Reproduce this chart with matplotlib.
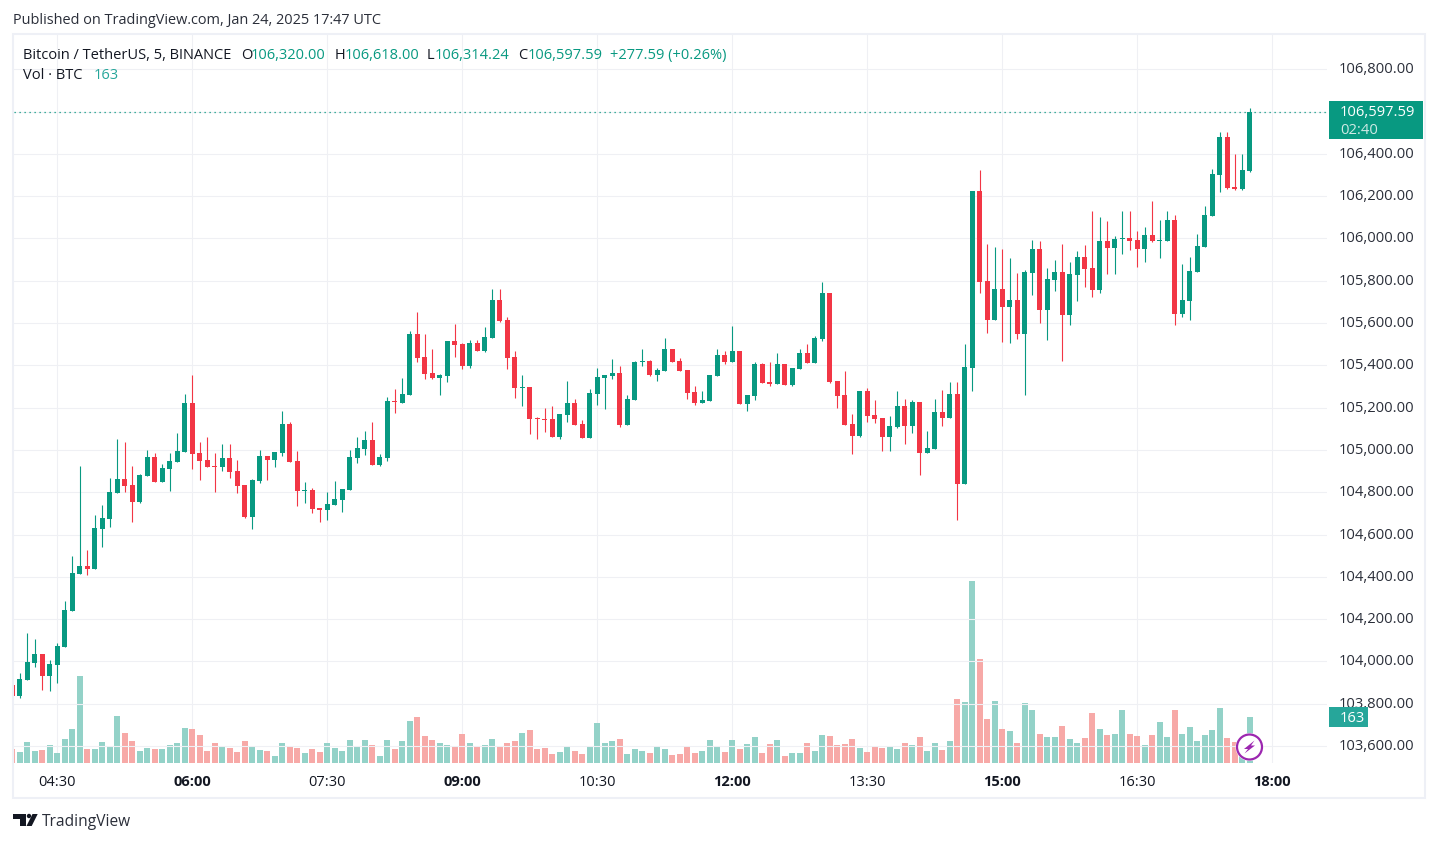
import matplotlib
matplotlib.use("Agg")
import matplotlib.pyplot as plt
from matplotlib.patches import Rectangle, Circle, Polygon
from matplotlib.transforms import ScaledTranslation

plt.rcParams["font.family"] = ["Open Sans", "DejaVu Sans"]

## candles, 5 minute BTCUSDT
opens = [103888, 103836, 103912, 103992, 104035, 103931, 103983, 104068, 104238, 104413,
         104451, 104437, 104626, 104673, 104796, 104862, 104834, 104754, 104877, 104966,
         104848, 104910, 104943, 104990, 105222, 104985, 104952, 104924, 104919, 104962,
         104900, 104834, 104683, 104853, 104971, 104952, 104985, 105122, 104947, 104807,
         104810, 104725, 104716, 104740, 104763, 104811, 104962, 105005, 105047, 104929,
         104962, 105230, 105222, 105260, 105548, 105440, 105364, 105340, 105350, 105515,
         105501, 105397, 105506, 105468, 105529, 105709, 105615, 105440, 105295, 105298,
         105151, 105147, 105147, 105061, 105165, 105222, 105123, 105057, 105265, 105340,
         105350, 105364, 105118, 105236, 105418, 105421, 105355, 105373, 105477, 105421,
         105378, 105274, 105222, 105232, 105350, 105449, 105416, 105468, 105217, 105255,
         105407, 105321, 105312, 105407, 105307, 105383, 105459, 105411, 105525, 105742,
         105326, 105260, 105123, 105066, 105279, 105165, 105151, 105061, 105109, 105208,
         105113, 105227, 104985, 105004, 105179, 105151, 105264, 104838, 105387, 106224,
         105798, 105614, 105760, 105675, 105708, 105548, 105836, 105950, 105661, 105803,
         105841, 105637, 105827, 105912, 105860, 105756, 105987, 105954, 105998, 106002,
         105992, 105950, 106016, 105987, 105987, 106087, 105642, 105704, 105841, 105959,
         106106, 106299, 106479, 106243, 106233, 106320]
highs = [103888, 103945, 104134, 104106, 104035, 104007, 104087, 104286, 104498, 104924,
         104527, 104692, 104739, 104867, 105051, 105037, 104924, 104886, 104999, 104985,
         104933, 104985, 105080, 105264, 105354, 105037, 105061, 104985, 105028, 105028,
         104952, 104834, 104862, 104999, 104971, 104990, 105184, 105132, 104995, 104848,
         104820, 104725, 104801, 104853, 104815, 105000, 105061, 105090, 105132, 104981,
         105251, 105288, 105340, 105563, 105652, 105548, 105477, 105359, 105515, 105596,
         105506, 105520, 105520, 105582, 105761, 105761, 105629, 105468, 105355, 105298,
         105156, 105199, 105208, 105170, 105326, 105241, 105142, 105288, 105388, 105355,
         105430, 105397, 105260, 105421, 105477, 105425, 105388, 105529, 105477, 105435,
         105378, 105303, 105279, 105355, 105477, 105468, 105586, 105468, 105260, 105416,
         105411, 105416, 105459, 105407, 105388, 105477, 105501, 105539, 105794, 105742,
         105326, 105373, 105170, 105279, 105293, 105236, 105151, 105161, 105279, 105241,
         105236, 105227, 105089, 105240, 105283, 105321, 105321, 105500, 106224, 106323,
         105973, 105959, 105950, 105907, 105836, 105850, 105992, 105987, 105860, 105898,
         105973, 105888, 105940, 105968, 106129, 106101, 106082, 106011, 106129, 106129,
         106035, 106054, 106176, 106087, 106129, 106110, 105879, 105912, 106020, 106153,
         106328, 106503, 106503, 106399, 106399, 106618]
lows = [103836, 103827, 103912, 103974, 103865, 103860, 103898, 104068, 104238, 104413,
        104408, 104437, 104541, 104635, 104796, 104801, 104659, 104749, 104877, 104848,
        104848, 104806, 104943, 104990, 104910, 104858, 104919, 104801, 104900, 104867,
        104796, 104678, 104626, 104843, 104858, 104919, 104971, 104943, 104735, 104749,
        104702, 104659, 104669, 104740, 104706, 104811, 104939, 104976, 104929, 104924,
        104948, 105175, 105222, 105260, 105416, 105336, 105336, 105260, 105321, 105440,
        105383, 105388, 105468, 105463, 105529, 105605, 105383, 105246, 105208, 105076,
        105052, 105085, 105061, 105052, 105132, 105118, 105057, 105057, 105213, 105194,
        105336, 105109, 105118, 105236, 105397, 105350, 105326, 105373, 105416, 105373,
        105241, 105213, 105222, 105232, 105350, 105407, 105416, 105217, 105184, 105236,
        105317, 105303, 105312, 105307, 105303, 105383, 105411, 105411, 105515, 105317,
        105199, 105118, 104981, 105061, 105132, 105128, 104995, 104995, 105104, 105028,
        105080, 104882, 104985, 105004, 105113, 105151, 104668, 104838, 105278, 105742,
        105552, 105614, 105510, 105505, 105524, 105259, 105732, 105600, 105519, 105751,
        105420, 105590, 105704, 105770, 105723, 105742, 105831, 105831, 105926, 105945,
        105864, 105888, 105983, 105907, 105987, 105590, 105628, 105614, 105841, 105959,
        106106, 106219, 106233, 106228, 106228, 106314.24]
closes = [103836, 103917, 103997, 104035, 103931, 103988, 104073, 104243, 104418, 104451,
          104437, 104631, 104678, 104801, 104862, 104829, 104754, 104881, 104966, 104848,
          104914, 104947, 104995, 105222, 104981, 104947, 104919, 104921, 104962, 104895,
          104829, 104683, 104858, 104971, 104952, 104990, 105122, 104943, 104806, 104810,
          104721, 104716, 104744, 104768, 104815, 104967, 105009, 105047, 104929, 104967,
          105232, 105227, 105265, 105548, 105435, 105359, 105340, 105355, 105515, 105496,
          105397, 105506, 105468, 105534, 105709, 105610, 105435, 105293, 105298, 105147,
          105148, 105143, 105061, 105170, 105222, 105118, 105057, 105269, 105345, 105355,
          105364, 105118, 105241, 105416, 105421, 105355, 105378, 105477, 105416, 105373,
          105269, 105222, 105236, 105355, 105449, 105416, 105468, 105217, 105260, 105407,
          105317, 105312, 105407, 105307, 105388, 105459, 105411, 105529, 105742, 105321,
          105255, 105118, 105066, 105279, 105161, 105147, 105061, 105113, 105208, 105113,
          105227, 104986, 105009, 105179, 105151, 105264, 104838, 105392, 106224, 105794,
          105614, 105760, 105675, 105708, 105548, 105841, 105950, 105661, 105808, 105841,
          105637, 105831, 105912, 105855, 105756, 105987, 105954, 105997, 106002, 105987,
          105950, 106016, 105987, 105992, 106087, 105642, 105708, 105846, 105964, 106110,
          106304, 106479, 106238, 106233, 106323, 106597.59]
volumes = [50, 39, 74, 42, 46, 64, 35, 85, 120, 308,
           50, 50, 74, 60, 166, 106, 78, 42, 53, 50,
           50, 64, 71, 124, 120, 99, 42, 71, 57, 53,
           39, 78, 57, 46, 42, 25, 71, 57, 53, 35,
           50, 39, 71, 53, 42, 81, 60, 81, 64, 25,
           81, 50, 78, 149, 163, 96, 81, 71, 64, 57,
           103, 71, 60, 64, 85, 60, 71, 78, 106, 117,
           50, 53, 32, 39, 57, 42, 32, 57, 142, 71,
           78, 85, 32, 50, 42, 35, 60, 50, 28, 32,
           57, 35, 42, 81, 57, 39, 81, 50, 67, 92,
           35, 67, 81, 25, 35, 35, 71, 42, 99, 96,
           64, 67, 85, 53, 39, 57, 53, 60, 50, 71,
           64, 92, 42, 71, 46, 78, 227, 216, 644, 368,
           156, 219, 120, 113, 71, 212, 188, 103, 92, 92,
           131, 85, 71, 88, 177, 120, 99, 103, 188, 103,
           96, 64, 99, 145, 92, 188, 103, 127, 78, 99,
           117, 195, 88, 74, 28, 163]

price_ticks = [103600, 103800, 104000, 104200, 104400, 104600, 104800, 105000,
               105200, 105400, 105600, 105800, 106000, 106200, 106400, 106600, 106800]
time_labels = ["04:30", "06:00", "07:30", "09:00", "10:30", "12:00", "13:30", "15:00", "16:30", "18:00"]
bold_labels = ["06:00", "09:00", "12:00", "15:00", "18:00"]
time_index = [6, 24, 42, 60, 78, 96, 114, 132, 150, 168]

GREEN = "#089981"
RED = "#F23645"
GRID = "#EFF0F4"
TEXT = "#131722"
W, H = 1438, 842

fig = plt.figure(figsize=(W / 100, H / 100), dpi=100, facecolor="white")
pos = [14 / W, 1 - 763 / H, (1327 - 14) / W, (763 - 35) / H]

idx = list(range(len(opens)))
up = [c >= o for o, c in zip(opens, closes)]

## volume pane sits under the candles
ax_vol = fig.add_axes(pos, zorder=1)
ax_vol.set_xlim(0.227, 175.29)
ax_vol.set_ylim(0, 2577)
ax_vol.bar(idx, volumes, width=0.82, color=["#93D2C8" if u else "#F7A9A7" for u in up], linewidth=0, zorder=3)
ax_vol.set_yticks(price_ticks[:0])
ax_vol.set_xticks(time_index)
ax_vol.set_xticklabels(time_labels, fontsize=10.5, color=TEXT)
for lab in ax_vol.get_xticklabels():
    if lab.get_text() in bold_labels:
        lab.set_fontweight("bold")
ax_vol.tick_params(axis="x", length=0, pad=8.5)
ax_vol.grid(axis="x", color=GRID, linewidth=0.8, zorder=0)
ax_vol.set_axisbelow(True)
for s in ax_vol.spines.values():
    s.set_visible(False)

## price pane
ax = fig.add_axes(pos, zorder=2)
ax.patch.set_alpha(0)
ax.set_xlim(0.227, 175.29)
ax.set_ylim(103520, 106962)
colors = [GREEN if u else RED for u in up]
ax.vlines(idx, lows, highs, colors=colors, linewidth=0.8, zorder=3)
ax.bar(idx, [abs(c - o) for o, c in zip(opens, closes)], bottom=[min(o, c) for o, c in zip(opens, closes)],
       width=0.66, color=colors, linewidth=0, zorder=4)
ax.axhline(closes[-1], color=GREEN, linewidth=0.9, linestyle=(0, (1, 3)), zorder=2)
ax.yaxis.tick_right()
ax.set_yticks(price_ticks)
ax.set_yticklabels(["" if p == 106600 else f"{p:,.2f}" for p in price_ticks], fontsize=10.6, color="#2A2E39")
ax.tick_params(axis="y", length=0, pad=8.6)
## labels sit a little above their grid lines
nudge = ScaledTranslation(0, 1.5 / 100, fig.dpi_scale_trans)
for lab in ax.get_yticklabels():
    lab.set_transform(lab.get_transform() + nudge)
ax.set_xticks([])
ax.grid(axis="y", color=GRID, linewidth=0.8, zorder=0)
ax.set_axisbelow(True)
for s in ax.spines.values():
    s.set_visible(False)

## everything around the chart, in pixels
top = fig.add_axes([0, 0, 1, 1], zorder=3)
top.set_xlim(0, W)
top.set_ylim(H, 0)
top.axis("off")
top.add_patch(Rectangle((13, 34), 1412, 764, fill=False, edgecolor="#EEF0F6", linewidth=1.5))

top.text(13, 21, "Published on TradingView.com, Jan 24, 2025 17:47 UTC", fontsize=10.45, color="#2A2E39", va="center")
top.text(23, 55.5, "Bitcoin / TetherUS, 5, BINANCE", fontsize=10.5, color=TEXT, va="center")
for x, s, c in [(241, "O", TEXT), (251, "106,320.00", GREEN), (335, "H", TEXT), (345, "106,618.00", GREEN),
                (427, "L", TEXT), (435, "106,314.24", GREEN), (518, "C", TEXT), (528, "106,597.59", GREEN),
                (610, "+277.59 (+0.26%)", GREEN)]:
    top.text(x, 55.5, s, fontsize=10.5, color=c, va="center")
top.text(23, 75.5, "Vol · BTC", fontsize=10.5, color=TEXT, va="center")
top.text(94, 75.5, "163", fontsize=10.5, color="#26A69A", va="center")

## last price and volume labels
top.add_patch(Rectangle((1329, 101), 94, 38, facecolor=GREEN, edgecolor="none", zorder=5))
top.text(1340, 112, "106,597.59", fontsize=10.6, color="white", va="center", fontweight="medium", zorder=6)
top.text(1340, 130, "02:40", fontsize=10.6, color="#CFEAE5", va="center", zorder=6)
top.add_patch(Rectangle((1329, 707), 39, 20, facecolor="#26A69A", edgecolor="none", zorder=5))
top.text(1340, 718, "163", fontsize=10.6, color="white", va="center", zorder=6)

## lightning badge
top.add_patch(Circle((1249.5, 747), 14, facecolor="white", edgecolor="none", zorder=5))
top.add_patch(Circle((1249.5, 747), 12.5, facecolor="white", edgecolor="#9C27B0", linewidth=1.6, zorder=6))
top.add_patch(Polygon([(1254.5, 740.5), (1244, 749), (1248, 749), (1244.5, 753.5), (1255, 745.5), (1251, 745.5)],
                      closed=True, facecolor="#9C27B0", edgecolor="none", zorder=7))

## logo
top.add_patch(Polygon([(13, 814), (26, 814), (26, 826), (20, 826), (20, 819), (13, 819)], closed=True,
                      facecolor=TEXT, edgecolor="none"))
top.add_patch(Circle((29, 816), 2.2, facecolor=TEXT, edgecolor="none"))
top.add_patch(Polygon([(32.5, 814), (37.7, 814), (31.7, 826), (26.5, 826)], closed=True, facecolor=TEXT, edgecolor="none"))
top.text(42, 821.5, "TradingView", fontsize=11.2, color="#2A2E39", va="center")

fig.savefig("out.png", dpi=100, facecolor="white")
